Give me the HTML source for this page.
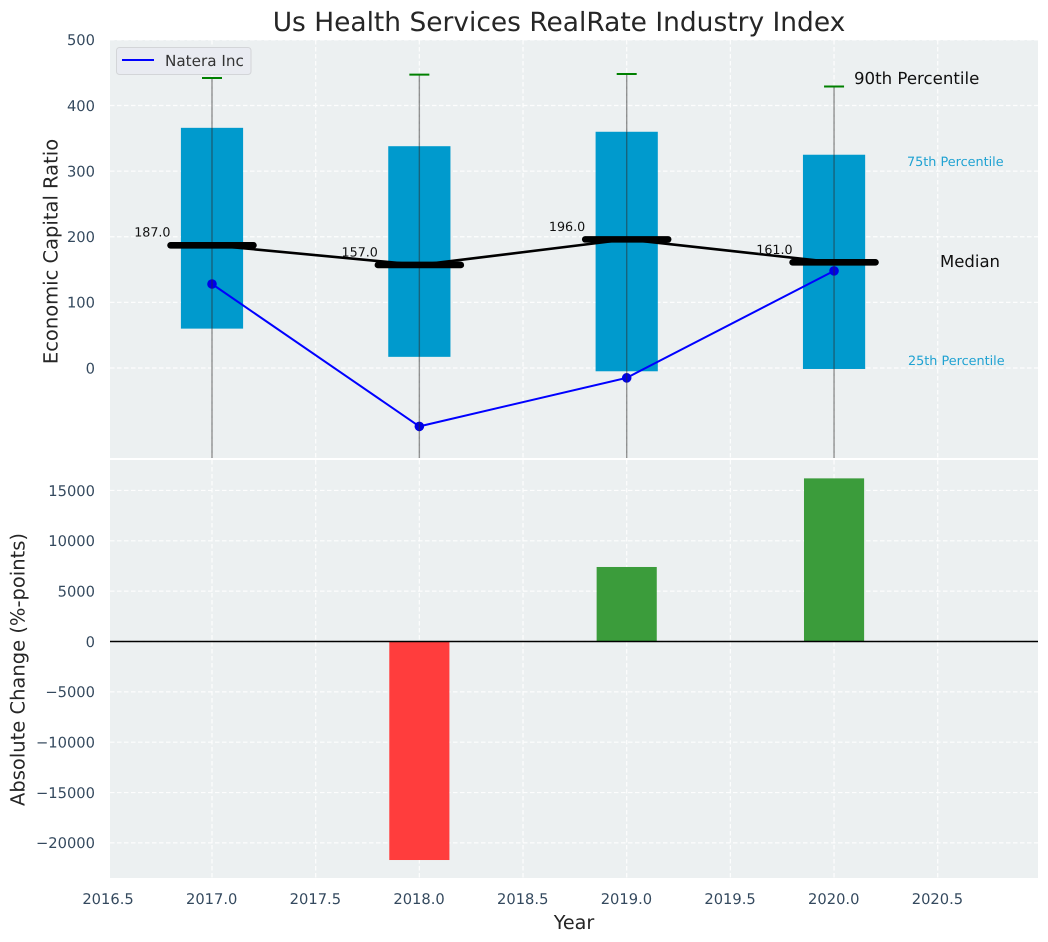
<!DOCTYPE html>
<html>
<head>
<meta charset="utf-8">
<title>Us Health Services RealRate Industry Index</title>
<style>
html,body{margin:0;padding:0;background:#fff;width:1048px;height:942px;overflow:hidden}
svg{display:block;font-family:"DejaVu Sans","Liberation Sans",sans-serif;text-rendering:geometricPrecision}
</style>
</head>
<body>
<svg id="chart" width="1048" height="942" viewBox="0 0 1048 942" xmlns="http://www.w3.org/2000/svg">
  <defs>
    <clipPath id="clip-top"><rect x="110" y="40" width="928" height="418"/></clipPath>
    <clipPath id="clip-bottom"><rect x="110" y="460" width="928" height="418"/></clipPath>
  </defs>
  <text x="559" y="31" font-size="26.45" fill="#262626" text-anchor="middle">Us Health Services RealRate Industry Index</text>
  <rect x="110" y="40" width="928" height="418" fill="#ecf0f1"/>
  <rect x="110" y="460" width="928" height="418" fill="#ecf0f1"/>
  <g id="grid"></g>
  <g id="top-marks" clip-path="url(#clip-top)"></g>
  <g id="bottom-marks" clip-path="url(#clip-bottom)"></g>
  <g id="ticks" font-size="14.7" fill="#34495e"></g>
  <text transform="translate(57.5,251.5) rotate(-90)" font-size="19.5" fill="#262626" text-anchor="middle">Economic Capital Ratio</text>
  <text transform="translate(24.5,669.5) rotate(-90)" font-size="19.5" fill="#262626" text-anchor="middle">Absolute Change (%-points)</text>
  <text x="574" y="929" font-size="19.2" fill="#262626" text-anchor="middle">Year</text>
  <text x="854" y="84" font-size="16.6" fill="#111">90th Percentile</text>
  <text x="907" y="166" font-size="12.8" fill="#1fa2d2">75th Percentile</text>
  <text x="940" y="267" font-size="16.5" fill="#111">Median</text>
  <text x="908" y="365" font-size="12.8" fill="#1fa2d2">25th Percentile</text>
  <g>
    <rect x="116.5" y="47.5" width="134.5" height="27" rx="3" fill="#e9ebf1" stroke="#d3d5d8" stroke-width="1"/>
    <line x1="122" y1="60" x2="154" y2="60" stroke="#0000ff" stroke-width="2"/>
    <text x="165" y="66" font-size="15.2" fill="#333">Natera Inc</text>
  </g>
</svg>
<script>
var years = [2017, 2018, 2019, 2020];
var p25 = [60, 17, -5, -1.5];
var p75 = [366, 338, 360, 325];
var p90 = [442, 447, 448, 429];
var whiskerLow = [-150, -150, -150, -150];
var medians = [187, 157, 196, 161];
var natera = [128, -89, -15, 148];
var changes = [0, -21700, 7400, 16200];
var xTicks = [2016.5, 2017, 2017.5, 2018, 2018.5, 2019, 2019.5, 2020, 2020.5];
var topYTicks = [0, 100, 200, 300, 400, 500];
var bottomYTicks = [-20000, -15000, -10000, -5000, 0, 5000, 10000, 15000];

var NS = 'http://www.w3.org/2000/svg';
function xScale(v) { return 212 + (v - 2017) * 207.35; }
function yTop(v) { return 368 - v * 0.6562; }
function yBottom(v) { return 641.5 - v * 0.01007; }
function make(parent, tag, attrs) {
  var el = document.createElementNS(NS, tag);
  for (var k in attrs) el.setAttribute(k, attrs[k]);
  parent.appendChild(el);
  return el;
}
var grid = document.getElementById('grid');
var top_ = document.getElementById('top-marks');
var bottom = document.getElementById('bottom-marks');
var ticks = document.getElementById('ticks');
var gridStyle = {stroke: '#ffffff', 'stroke-width': 1.2, 'stroke-dasharray': '4.5 2.5', opacity: 0.9};
function withGrid(a) { for (var k in gridStyle) a[k] = gridStyle[k]; return a; }

xTicks.forEach(function (t) {
  var x = xScale(t);
  if (x >= 110) {
    var g1 = make(grid, 'line', withGrid({x1: x, x2: x, y1: 40, y2: 458}));
    
    
    var g2 = make(grid, 'line', withGrid({x1: x, x2: x, y1: 460, y2: 878}));
    
    
  }
  var lab = make(ticks, 'text', {x: x - 0.3, y: 904, 'text-anchor': 'middle'});
  lab.textContent = t.toFixed(1);
  
  
});
topYTicks.forEach(function (t) {
  var y = yTop(t);
  var g = make(grid, 'line', withGrid({x1: 110, x2: 1038, y1: y, y2: y}));
  
  
  var lab = make(ticks, 'text', {x: 95, y: y + 5.3, 'text-anchor': 'end'});
  lab.textContent = String(t);
  
  
});
bottomYTicks.forEach(function (t) {
  var y = yBottom(t);
  var g = make(grid, 'line', withGrid({x1: 110, x2: 1038, y1: y, y2: y}));
  
  
  var lab = make(ticks, 'text', {x: 95, y: y + 5.3, 'text-anchor': 'end'});
  lab.textContent = String(t).replace('-', '\u2212');
  
  
});

// Interquartile bars
years.forEach(function (yr, i) {
  var x0 = xScale(yr - 0.15), x1 = xScale(yr + 0.15);
  var b = make(top_, 'rect', {x: x0, y: yTop(p75[i]), width: x1 - x0, height: yTop(p25[i]) - yTop(p75[i]), fill: '#009acd'});
  
  
});
// Natera line
var naPts = years.map(function (yr, i) { return xScale(yr) + ',' + yTop(natera[i]); }).join(' ');
var naLine = make(top_, 'polyline', {points: naPts, fill: 'none', stroke: '#0000ff', 'stroke-width': 2});


years.forEach(function (yr, i) {
  var c = make(top_, 'circle', {cx: xScale(yr), cy: yTop(natera[i]), r: 4.8, fill: '#0000e6'});
  
  
});
// Whiskers and 90th percentile caps
years.forEach(function (yr, i) {
  var x = xScale(yr);
  var w = make(top_, 'line', {x1: x, x2: x, y1: yTop(p90[i]), y2: yTop(whiskerLow[i]), stroke: '#2b2b2b', 'stroke-opacity': 0.5, 'stroke-width': 1.4});
  
  
  var c = make(top_, 'line', {x1: x - 10, x2: x + 10, y1: yTop(p90[i]), y2: yTop(p90[i]), stroke: '#008000', 'stroke-width': 2});
  
  
});
// Median connector, value labels, thick median bars
var medPts = years.map(function (yr, i) { return xScale(yr) + ',' + yTop(medians[i]); }).join(' ');
var medLine = make(top_, 'polyline', {points: medPts, fill: 'none', stroke: '#000', 'stroke-width': 2.6});


years.forEach(function (yr, i) {
  var t = make(top_, 'text', {x: xScale(yr - 0.2), y: yTop(medians[i]) - 8.6, 'font-size': 12.7, fill: '#111', 'text-anchor': 'end'});
  t.textContent = medians[i].toFixed(1);
  
  
  var m = make(top_, 'line', {x1: xScale(yr - 0.2), x2: xScale(yr + 0.2), y1: yTop(medians[i]), y2: yTop(medians[i]), stroke: '#000', 'stroke-width': 6.6, 'stroke-linecap': 'round'});
  
  
});
// Absolute change bars
years.forEach(function (yr, i) {
  var v = changes[i];
  if (v === 0) return;
  var x0 = xScale(yr - 0.145), x1 = xScale(yr + 0.145);
  var yA = yBottom(Math.max(v, 0)), yB = yBottom(Math.min(v, 0));
  var b = make(bottom, 'rect', {x: x0, y: yA, width: x1 - x0, height: yB - yA, fill: v > 0 ? '#3b9c3b' : '#ff3d3d'});
  
  
});
var zero = make(bottom, 'line', {x1: 110, x2: 1038, y1: yBottom(0), y2: yBottom(0), stroke: '#000', 'stroke-width': 1.4});


</script>
</body>
</html>
